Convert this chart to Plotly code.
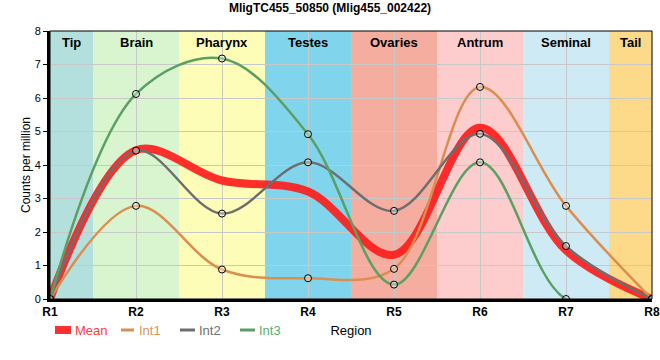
import plotly.graph_objects as go

categories = ["R1", "R2", "R3", "R4", "R5", "R6", "R7", "R8"]
int1 = [0, 2.78, 0.88, 0.62, 0.90, 6.33, 2.78, 0]
int2 = [0, 4.43, 2.55, 4.08, 2.63, 4.93, 1.58, 0]
int3 = [0, 6.12, 7.18, 4.92, 0.43, 4.08, 0, 0]
mean = [round((a + b + c) / 3, 3) for a, b, c in zip(int1, int2, int3)]

region_names = ["Tip", "Brain", "Pharynx", "Testes", "Ovaries", "Antrum", "Seminal", "Tail"]
region_starts = [0, 0.5, 1.5, 2.5, 3.5, 4.5, 5.5, 6.5]
region_ends = [0.5, 1.5, 2.5, 3.5, 4.5, 5.5, 6.5, 7]
region_colors = ["#b3e0dc", "#d8f5d0", "#fefdb8", "#80d5ec", "#f5ada0", "#fdcccd", "#ceebf5", "#fdd98a"]

fig = go.Figure()

series = [
    ("Mean", mean, "rgba(255,25,25,0.9)", 8, False, "#ff3c3c"),
    ("Int1", int1, "#dc8e50", 2.5, True, "#e0935a"),
    ("Int2", int2, "#6e6e6e", 2.5, True, "#707070"),
    ("Int3", int3, "#5aa064", 2.5, True, "#5faa68"),
]
for name, vals, col, w, mk, tcol in series:
    fig.add_trace(go.Scatter(
        x=categories, y=vals,
        name=name, showlegend=False,
        mode="lines+markers" if mk else "lines",
        line=dict(color=col, width=w, shape="spline", smoothing=1.0),
        marker=dict(symbol="circle", size=7, color="rgba(255,255,255,0.35)",
                    line=dict(color="black", width=1)) if mk else None,
    ))

# plot area in pixels: left 50, right 652, top 31, bottom 299
PL, PR, PT, PB = 50, 652, 31, 299


def px_x(p):
    return (p - PL) / (PR - PL)


def px_y(p):
    return (PB - p) / (PB - PT)


shapes = []
for s, e, c in zip(region_starts, region_ends, region_colors):
    shapes.append(dict(type="rect", xref="x", yref="paper", x0=s, x1=e, y0=0, y1=1,
                       fillcolor=c, line=dict(width=0), layer="below"))
shapes.append(dict(type="rect", xref="paper", yref="paper", x0=0, x1=1, y0=0, y1=1,
                   line=dict(color="black", width=1), fillcolor="rgba(0,0,0,0)"))

annotations = []
for s, e, n in zip(region_starts, region_ends, region_names):
    annotations.append(dict(x=(s + e) / 2, y=0.958, xref="x", yref="paper", text=f"<b>{n}</b>",
                            showarrow=False, font=dict(size=13, color="black"),
                            xanchor="center", yanchor="middle"))

# manual legend
legend_y = 330
legend_swatch = [(55, 71), (121, 134), (180, 195), (240, 255)]
legend_text_x = [73, 137, 197, 257]
for (name, vals, col, w, mk, tcol), (sx0, sx1), tx in zip(series, legend_swatch, legend_text_x):
    shapes.append(dict(type="line", xref="paper", yref="paper",
                       x0=px_x(sx0), x1=px_x(sx1), y0=px_y(legend_y), y1=px_y(legend_y),
                       line=dict(color=col, width=w if w > 3 else 3)))
    annotations.append(dict(x=px_x(tx), y=px_y(legend_y), xref="paper", yref="paper",
                            text=name, showarrow=False, xanchor="left", yanchor="middle",
                            font=dict(size=13, color=tcol)))

fig.update_layout(
    width=660, height=360,
    margin=dict(l=50, r=8, t=31, b=61, autoexpand=False),
    paper_bgcolor="white", plot_bgcolor="white",
    font=dict(family="Liberation Sans, Arial, sans-serif", color="black"),
    title=dict(text="<b>MligTC455_50850 (Mlig455_002422)</b>", x=0.5, xanchor="center",
               y=0.977, yanchor="middle", font=dict(size=12)),
    shapes=shapes, annotations=annotations,
    showlegend=False,
    xaxis=dict(type="category", range=[0, 7], showgrid=True, gridcolor="#c8c8c8", gridwidth=1,
               showline=True, linecolor="black", linewidth=3, ticks="", automargin=False,
               tickfont=dict(size=12), tickvals=categories,
               ticktext=[f"<b>{c}</b>" for c in categories],
               title=dict(text="Region", font=dict(size=13), standoff=8)),
    yaxis=dict(range=[0, 8], dtick=1, showgrid=True, gridcolor="#c8c8c8", gridwidth=1,
               showline=True, linecolor="black", linewidth=3, ticks="outside", ticklen=4,
               tickcolor="black", tickfont=dict(size=11), zeroline=False, automargin=False,
               title=dict(text="Counts per million", font=dict(size=12), standoff=2)),
)

fig.write_html("out.html", config={"displayModeBar": False},
               post_script="document.body.style.margin='0';document.body.style.padding='0';")
